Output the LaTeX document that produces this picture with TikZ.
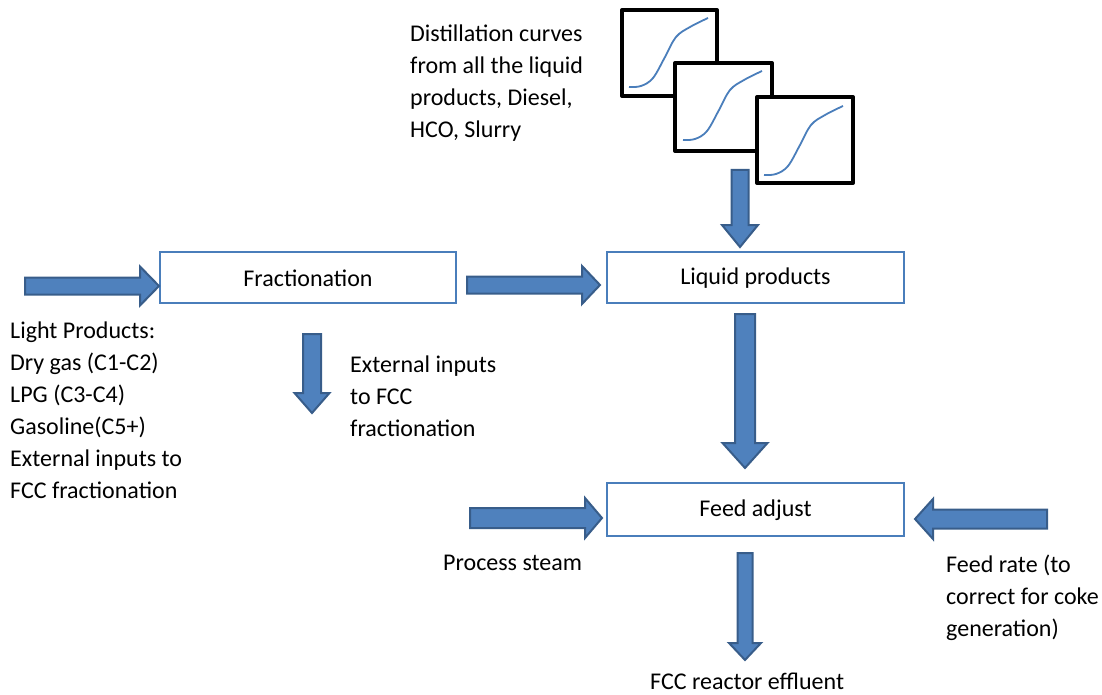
\documentclass[tikz,border=0pt]{standalone}
\usepackage{fontspec}
\setmainfont{Carlito}
\usetikzlibrary{calc}
\definecolor{boxline}{HTML}{4A7EBB}
\definecolor{arrfill}{HTML}{4F81BD}
\definecolor{arrline}{HTML}{385D8A}
\definecolor{curveblue}{HTML}{4A7EBB}
\tikzset{
  stage/.style={draw=boxline, line width=1.8pt, fill=white},
  blockarr/.style={draw=arrline, fill=arrfill, line width=2pt, line join=miter},
  chart/.style={draw=black, line width=4pt, fill=white, line join=round},
  sigmoid/.style={draw=curveblue, line width=1.8pt},
  label/.style={inner sep=0pt, align=left, anchor=base west},
  title/.style={inner sep=0pt, anchor=center}
}
% block arrow from #1 to #2: shaft half width #3, head half width #4, head length #5 (pt)
\newcommand\blockarrow[5]{%
  \coordinate (hb) at ($(#2)!#5pt!(#1)$);
  \draw[blockarr]
    ($(#1)!#3pt!90:(#2)$) -- ($(hb)!#3pt!-90:(#1)$) -- ($(hb)!#4pt!-90:(#1)$)
    -- (#2) -- ($(hb)!#4pt!90:(#1)$) -- ($(hb)!#3pt!90:(#1)$)
    -- ($(#1)!#3pt!-90:(#2)$) -- cycle;}
\newcommand\sigmoidcurve[1]{%
  \draw[sigmoid, shift={(#1)}] plot[smooth, tension=0.6] coordinates
    {(0,0) (12,-1) (24,-9) (36,-30) (47,-50) (61,-60) (79,-69)};}
\begin{document}
\begin{tikzpicture}[x=1pt, y=-1pt, font=\fontsize{24}{32}\selectfont]
\useasboundingbox (0,0) rectangle (1102,695);

% process stages
\draw[stage] (160,252) rectangle (456,303);
\node[title] (frac) at (308,278.5) {Fractionation};
\draw[stage] (607,252) rectangle (904,303);
\node[title] (liq) at (755.5,278.5) {Liquid products};
\draw[stage] (607,483) rectangle (904,536);
\node[title] (feed) at (755.5,510.5) {Feed adjust};

% stacked distillation-curve charts
\draw[chart] (622,10) rectangle (717,96);
\sigmoidcurve{629,87}
\draw[chart] (675,63) rectangle (772,151);
\sigmoidcurve{683,140}
\draw[chart] (757,97) rectangle (853,183);
\sigmoidcurve{764,175}
\coordinate (charts) at (740,170);

% arrow end points
\coordinate (lightin) at (25,286);
\coordinate (fracin) at (159,286);
\coordinate (fracout) at (467,285);
\coordinate (liqin) at (600,285);
\coordinate (extout) at (312,334);
\coordinate (extend) at (312,413);
\coordinate (liqtop) at (740,247);
\coordinate (liqout) at (745,314);
\coordinate (feedtop) at (745,468);
\coordinate (steam) at (470,518);
\coordinate (feedleft) at (602,518);
\coordinate (rate) at (1047,519);
\coordinate (feedright) at (915,519);
\coordinate (feedout) at (745,553);
\coordinate (effluent) at (745,660);

% flows
\blockarrow{lightin}{fracin}{8.5}{19.5}{19}
\blockarrow{fracout}{liqin}{8.5}{19}{18}
\blockarrow{extout}{extend}{9}{17.5}{20}
\blockarrow{charts}{liqtop}{8.5}{18}{22}
\blockarrow{liqout}{feedtop}{10}{22.5}{25}
\blockarrow{steam}{feedleft}{10}{20}{17}
\blockarrow{rate}{feedright}{9.5}{20}{18}
\blockarrow{feedout}{effluent}{7.5}{16}{17}

% annotations (anchored at the baseline of the last line)
\node[label] (distlbl) at (410,138) {Distillation curves\\from all the liquid\\products, Diesel,\\HCO, Slurry};
\node[label] (lightlbl) at (10,498) {Light Products:\\Dry gas (C1-C2)\\LPG (C3-C4)\\Gasoline(C5+)\\External inputs to\\FCC fractionation};
\node[label] (extlbl) at (350,436) {External inputs\\to FCC\\fractionation};
\node[label] (steamlbl) at (443,570) {Process steam};
\node[label] (ratelbl) at (946,636) {Feed rate (to\\correct for coke\\generation)};
\node[label] (efflbl) at (650,689) {FCC reactor effluent};
\end{tikzpicture}
\end{document}
